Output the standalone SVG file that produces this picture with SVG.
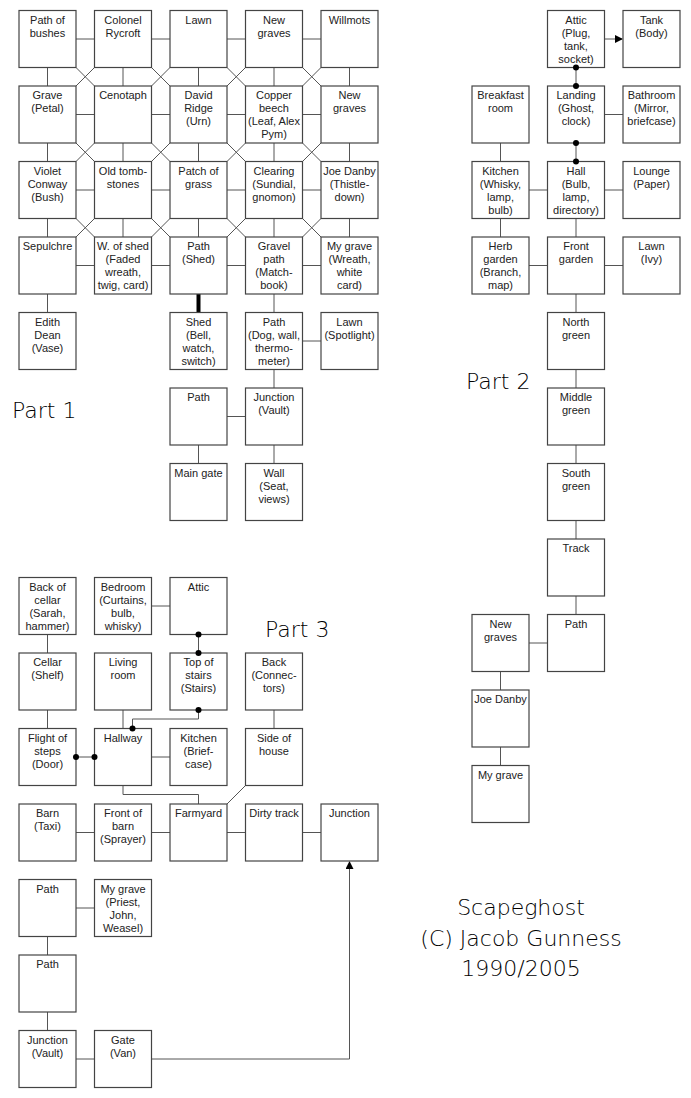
<svg xmlns="http://www.w3.org/2000/svg" width="691" height="1098" viewBox="0 0 691 1098">
<style>
.b{fill:#fff;stroke:#444;stroke-width:1.2}
.t{font-family:"Liberation Sans",Arial,sans-serif;font-size:11px;text-anchor:middle;fill:#222}
.c{stroke:#555;stroke-width:1;fill:none}
.d{fill:#000}
.h{font-family:"DejaVu Sans",sans-serif;font-weight:300;font-size:22px;fill:#000}
</style>
<defs><marker id="ah" markerWidth="8" markerHeight="8" refX="7" refY="4" orient="auto" markerUnits="userSpaceOnUse"><path d="M0,0 L8,4 L0,8 z" fill="#000"/></marker></defs>
<rect width="691" height="1098" fill="#fff"/>
<g id="connectors">
<path class="c" d="M76,39H94.5M151.5,39H170M227,39H245.5M302.5,39H321
M76,114.5H94.5M151.5,114.5H170M227,114.5H245.5M302.5,114.5H321
M76,190H94.5M151.5,190H170M227,190H245.5M302.5,190H321
M76,265.5H94.5M151.5,265.5H170M227,265.5H245.5M302.5,265.5H321"/>
<path class="c" d="M47.5,67.5V86M123,67.5V86M198.5,67.5V86M274,67.5V86M349.5,67.5V86
M47.5,143V161.5M123,143V161.5M198.5,143V161.5M274,143V161.5M349.5,143V161.5
M47.5,218.5V237M123,218.5V237M198.5,218.5V237M274,218.5V237M349.5,218.5V237
M47.5,294V312.5M274,294V312.5M274,369.5V388M274,445V463.5M198.5,445V463.5
M302.5,341H321M227,416.5H245.5"/>
<path d="M198.5,294V312.5" stroke="#000" stroke-width="4"/>
<path class="c" d="M76,67.5L94.5,86M94.5,67.5L76,86M151.5,67.5L170,86M170,67.5L151.5,86M227,67.5L245.5,86M245.5,67.5L227,86M302.5,67.5L321,86M321,67.5L302.5,86
M76,143L94.5,161.5M94.5,143L76,161.5M151.5,143L170,161.5M170,143L151.5,161.5M227,143L245.5,161.5M245.5,143L227,161.5M302.5,143L321,161.5M321,143L302.5,161.5
M76,218.5L94.5,237M94.5,218.5L76,237M151.5,218.5L170,237M170,218.5L151.5,237M227,218.5L245.5,237M245.5,218.5L227,237M302.5,218.5L321,237M321,218.5L302.5,237"/>
<path class="c" d="M604.5,39H622" stroke="#000" marker-end="url(#ah)"/>
<path class="c" d="M576,67.5V86M576,143V161.5" stroke="#000" stroke-width="1.5"/>
<path class="c" d="M604.5,114.5H623M500.5,143V161.5M529,190H547.5M604.5,190H623M500.5,218.5V237M529,265.5H547.5M604.5,265.5H623
M576,218.5V237M576,294V312.5M576,369.5V388M576,445V463.5M576,520.5V539M576,596V614.5M529,643H547.5M500.5,671.5V690M500.5,747V765.5"/>
<path class="c" d="M47.5,634.5V653M47.5,710V728.5M151.5,606H170M123,710V728.5M151.5,757H170M274,710V728.5
M123,785.5V794.5H198.5V804M245.5,785.5L227,804
M76,832.5H94.5M151.5,832.5H170M227,832.5H245.5M302.5,832.5H321
M76,908H94.5M47.5,936.5V955M47.5,1012V1030.5M76,1059H94.5"/>
<path class="c" d="M198.5,634.5V653M198.5,710V719H132.5V728.5M76,757H94.5" stroke="#000" stroke-width="1.5"/>
<path class="c" d="M151.5,1059H349.5V862" stroke="#000" marker-end="url(#ah)"/>
</g>
<g id="p1-path-of-bushes"><rect class="b" x="19" y="10.5" width="57" height="57"/><text class="t" x="47.5" y="23.5"><tspan x="47.5">Path of</tspan><tspan x="47.5" dy="13">bushes</tspan></text></g>
<g id="p1-colonel"><rect class="b" x="94.5" y="10.5" width="57" height="57"/><text class="t" x="123" y="23.5"><tspan x="123">Colonel</tspan><tspan x="123" dy="13">Rycroft</tspan></text></g>
<g id="p1-lawn"><rect class="b" x="170" y="10.5" width="57" height="57"/><text class="t" x="198.5" y="23.5">Lawn</text></g>
<g id="p1-new-graves1"><rect class="b" x="245.5" y="10.5" width="57" height="57"/><text class="t" x="274" y="23.5"><tspan x="274">New</tspan><tspan x="274" dy="13">graves</tspan></text></g>
<g id="p1-willmots"><rect class="b" x="321" y="10.5" width="57" height="57"/><text class="t" x="349.5" y="23.5">Willmots</text></g>
<g id="p1-grave"><rect class="b" x="19" y="86" width="57" height="57"/><text class="t" x="47.5" y="99"><tspan x="47.5">Grave</tspan><tspan x="47.5" dy="13">(Petal)</tspan></text></g>
<g id="p1-cenotaph"><rect class="b" x="94.5" y="86" width="57" height="57"/><text class="t" x="123" y="99">Cenotaph</text></g>
<g id="p1-david"><rect class="b" x="170" y="86" width="57" height="57"/><text class="t" x="198.5" y="99"><tspan x="198.5">David</tspan><tspan x="198.5" dy="13">Ridge</tspan><tspan x="198.5" dy="13">(Urn)</tspan></text></g>
<g id="p1-copper"><rect class="b" x="245.5" y="86" width="57" height="57"/><text class="t" x="274" y="99"><tspan x="274">Copper</tspan><tspan x="274" dy="13">beech</tspan><tspan x="274" dy="13">(Leaf, Alex</tspan><tspan x="274" dy="13">Pym)</tspan></text></g>
<g id="p1-new-graves2"><rect class="b" x="321" y="86" width="57" height="57"/><text class="t" x="349.5" y="99"><tspan x="349.5">New</tspan><tspan x="349.5" dy="13">graves</tspan></text></g>
<g id="p1-violet"><rect class="b" x="19" y="161.5" width="57" height="57"/><text class="t" x="47.5" y="174.5"><tspan x="47.5">Violet</tspan><tspan x="47.5" dy="13">Conway</tspan><tspan x="47.5" dy="13">(Bush)</tspan></text></g>
<g id="p1-old-tomb"><rect class="b" x="94.5" y="161.5" width="57" height="57"/><text class="t" x="123" y="174.5"><tspan x="123">Old tomb-</tspan><tspan x="123" dy="13">stones</tspan></text></g>
<g id="p1-patch"><rect class="b" x="170" y="161.5" width="57" height="57"/><text class="t" x="198.5" y="174.5"><tspan x="198.5">Patch of</tspan><tspan x="198.5" dy="13">grass</tspan></text></g>
<g id="p1-clearing"><rect class="b" x="245.5" y="161.5" width="57" height="57"/><text class="t" x="274" y="174.5"><tspan x="274">Clearing</tspan><tspan x="274" dy="13">(Sundial,</tspan><tspan x="274" dy="13">gnomon)</tspan></text></g>
<g id="p1-joe"><rect class="b" x="321" y="161.5" width="57" height="57"/><text class="t" x="349.5" y="174.5"><tspan x="349.5">Joe Danby</tspan><tspan x="349.5" dy="13">(Thistle-</tspan><tspan x="349.5" dy="13">down)</tspan></text></g>
<g id="p1-sepulchre"><rect class="b" x="19" y="237" width="57" height="57"/><text class="t" x="47.5" y="250">Sepulchre</text></g>
<g id="p1-w-shed"><rect class="b" x="94.5" y="237" width="57" height="57"/><text class="t" x="123" y="250"><tspan x="123">W. of shed</tspan><tspan x="123" dy="13">(Faded</tspan><tspan x="123" dy="13">wreath,</tspan><tspan x="123" dy="13">twig, card)</tspan></text></g>
<g id="p1-path-shed"><rect class="b" x="170" y="237" width="57" height="57"/><text class="t" x="198.5" y="250"><tspan x="198.5">Path</tspan><tspan x="198.5" dy="13">(Shed)</tspan></text></g>
<g id="p1-gravel"><rect class="b" x="245.5" y="237" width="57" height="57"/><text class="t" x="274" y="250"><tspan x="274">Gravel</tspan><tspan x="274" dy="13">path</tspan><tspan x="274" dy="13">(Match-</tspan><tspan x="274" dy="13">book)</tspan></text></g>
<g id="p1-my-grave"><rect class="b" x="321" y="237" width="57" height="57"/><text class="t" x="349.5" y="250"><tspan x="349.5">My grave</tspan><tspan x="349.5" dy="13">(Wreath,</tspan><tspan x="349.5" dy="13">white</tspan><tspan x="349.5" dy="13">card)</tspan></text></g>
<g id="p1-edith"><rect class="b" x="19" y="312.5" width="57" height="57"/><text class="t" x="47.5" y="325.5"><tspan x="47.5">Edith</tspan><tspan x="47.5" dy="13">Dean</tspan><tspan x="47.5" dy="13">(Vase)</tspan></text></g>
<g id="p1-shed"><rect class="b" x="170" y="312.5" width="57" height="57"/><text class="t" x="198.5" y="325.5"><tspan x="198.5">Shed</tspan><tspan x="198.5" dy="13">(Bell,</tspan><tspan x="198.5" dy="13">watch,</tspan><tspan x="198.5" dy="13">switch)</tspan></text></g>
<g id="p1-path-dog"><rect class="b" x="245.5" y="312.5" width="57" height="57"/><text class="t" x="274" y="325.5"><tspan x="274">Path</tspan><tspan x="274" dy="13">(Dog, wall,</tspan><tspan x="274" dy="13">thermo-</tspan><tspan x="274" dy="13">meter)</tspan></text></g>
<g id="p1-lawn-spot"><rect class="b" x="321" y="312.5" width="57" height="57"/><text class="t" x="349.5" y="325.5"><tspan x="349.5">Lawn</tspan><tspan x="349.5" dy="13">(Spotlight)</tspan></text></g>
<g id="p1-path"><rect class="b" x="170" y="388" width="57" height="57"/><text class="t" x="198.5" y="401">Path</text></g>
<g id="p1-junction"><rect class="b" x="245.5" y="388" width="57" height="57"/><text class="t" x="274" y="401"><tspan x="274">Junction</tspan><tspan x="274" dy="13">(Vault)</tspan></text></g>
<g id="p1-main-gate"><rect class="b" x="170" y="463.5" width="57" height="57"/><text class="t" x="198.5" y="476.5">Main gate</text></g>
<g id="p1-wall"><rect class="b" x="245.5" y="463.5" width="57" height="57"/><text class="t" x="274" y="476.5"><tspan x="274">Wall</tspan><tspan x="274" dy="13">(Seat,</tspan><tspan x="274" dy="13">views)</tspan></text></g>
<g id="p2-attic"><rect class="b" x="547.5" y="10.5" width="57" height="57"/><text class="t" x="576" y="23.5"><tspan x="576">Attic</tspan><tspan x="576" dy="13">(Plug,</tspan><tspan x="576" dy="13">tank,</tspan><tspan x="576" dy="13">socket)</tspan></text></g>
<g id="p2-tank"><rect class="b" x="623" y="10.5" width="57" height="57"/><text class="t" x="651.5" y="23.5"><tspan x="651.5">Tank</tspan><tspan x="651.5" dy="13">(Body)</tspan></text></g>
<g id="p2-breakfast"><rect class="b" x="472" y="86" width="57" height="57"/><text class="t" x="500.5" y="99"><tspan x="500.5">Breakfast</tspan><tspan x="500.5" dy="13">room</tspan></text></g>
<g id="p2-landing"><rect class="b" x="547.5" y="86" width="57" height="57"/><text class="t" x="576" y="99"><tspan x="576">Landing</tspan><tspan x="576" dy="13">(Ghost,</tspan><tspan x="576" dy="13">clock)</tspan></text></g>
<g id="p2-bathroom"><rect class="b" x="623" y="86" width="57" height="57"/><text class="t" x="651.5" y="99"><tspan x="651.5">Bathroom</tspan><tspan x="651.5" dy="13">(Mirror,</tspan><tspan x="651.5" dy="13">briefcase)</tspan></text></g>
<g id="p2-kitchen"><rect class="b" x="472" y="161.5" width="57" height="57"/><text class="t" x="500.5" y="174.5"><tspan x="500.5">Kitchen</tspan><tspan x="500.5" dy="13">(Whisky,</tspan><tspan x="500.5" dy="13">lamp,</tspan><tspan x="500.5" dy="13">bulb)</tspan></text></g>
<g id="p2-hall"><rect class="b" x="547.5" y="161.5" width="57" height="57"/><text class="t" x="576" y="174.5"><tspan x="576">Hall</tspan><tspan x="576" dy="13">(Bulb,</tspan><tspan x="576" dy="13">lamp,</tspan><tspan x="576" dy="13">directory)</tspan></text></g>
<g id="p2-lounge"><rect class="b" x="623" y="161.5" width="57" height="57"/><text class="t" x="651.5" y="174.5"><tspan x="651.5">Lounge</tspan><tspan x="651.5" dy="13">(Paper)</tspan></text></g>
<g id="p2-herb"><rect class="b" x="472" y="237" width="57" height="57"/><text class="t" x="500.5" y="250"><tspan x="500.5">Herb</tspan><tspan x="500.5" dy="13">garden</tspan><tspan x="500.5" dy="13">(Branch,</tspan><tspan x="500.5" dy="13">map)</tspan></text></g>
<g id="p2-front"><rect class="b" x="547.5" y="237" width="57" height="57"/><text class="t" x="576" y="250"><tspan x="576">Front</tspan><tspan x="576" dy="13">garden</tspan></text></g>
<g id="p2-lawn"><rect class="b" x="623" y="237" width="57" height="57"/><text class="t" x="651.5" y="250"><tspan x="651.5">Lawn</tspan><tspan x="651.5" dy="13">(Ivy)</tspan></text></g>
<g id="p2-north"><rect class="b" x="547.5" y="312.5" width="57" height="57"/><text class="t" x="576" y="325.5"><tspan x="576">North</tspan><tspan x="576" dy="13">green</tspan></text></g>
<g id="p2-middle"><rect class="b" x="547.5" y="388" width="57" height="57"/><text class="t" x="576" y="401"><tspan x="576">Middle</tspan><tspan x="576" dy="13">green</tspan></text></g>
<g id="p2-south"><rect class="b" x="547.5" y="463.5" width="57" height="57"/><text class="t" x="576" y="476.5"><tspan x="576">South</tspan><tspan x="576" dy="13">green</tspan></text></g>
<g id="p2-track"><rect class="b" x="547.5" y="539" width="57" height="57"/><text class="t" x="576" y="552">Track</text></g>
<g id="p2-path"><rect class="b" x="547.5" y="614.5" width="57" height="57"/><text class="t" x="576" y="627.5">Path</text></g>
<g id="p2-new-graves"><rect class="b" x="472" y="614.5" width="57" height="57"/><text class="t" x="500.5" y="627.5"><tspan x="500.5">New</tspan><tspan x="500.5" dy="13">graves</tspan></text></g>
<g id="p2-joe"><rect class="b" x="472" y="690" width="57" height="57"/><text class="t" x="500.5" y="703">Joe Danby</text></g>
<g id="p2-my-grave"><rect class="b" x="472" y="765.5" width="57" height="57"/><text class="t" x="500.5" y="778.5">My grave</text></g>
<g id="p3-back-cellar"><rect class="b" x="19" y="577.5" width="57" height="57"/><text class="t" x="47.5" y="590.5"><tspan x="47.5">Back of</tspan><tspan x="47.5" dy="13">cellar</tspan><tspan x="47.5" dy="13">(Sarah,</tspan><tspan x="47.5" dy="13">hammer)</tspan></text></g>
<g id="p3-bedroom"><rect class="b" x="94.5" y="577.5" width="57" height="57"/><text class="t" x="123" y="590.5"><tspan x="123">Bedroom</tspan><tspan x="123" dy="13">(Curtains,</tspan><tspan x="123" dy="13">bulb,</tspan><tspan x="123" dy="13">whisky)</tspan></text></g>
<g id="p3-attic"><rect class="b" x="170" y="577.5" width="57" height="57"/><text class="t" x="198.5" y="590.5">Attic</text></g>
<g id="p3-cellar"><rect class="b" x="19" y="653" width="57" height="57"/><text class="t" x="47.5" y="666"><tspan x="47.5">Cellar</tspan><tspan x="47.5" dy="13">(Shelf)</tspan></text></g>
<g id="p3-living"><rect class="b" x="94.5" y="653" width="57" height="57"/><text class="t" x="123" y="666"><tspan x="123">Living</tspan><tspan x="123" dy="13">room</tspan></text></g>
<g id="p3-top-stairs"><rect class="b" x="170" y="653" width="57" height="57"/><text class="t" x="198.5" y="666"><tspan x="198.5">Top of</tspan><tspan x="198.5" dy="13">stairs</tspan><tspan x="198.5" dy="13">(Stairs)</tspan></text></g>
<g id="p3-back"><rect class="b" x="245.5" y="653" width="57" height="57"/><text class="t" x="274" y="666"><tspan x="274">Back</tspan><tspan x="274" dy="13">(Connec-</tspan><tspan x="274" dy="13">tors)</tspan></text></g>
<g id="p3-flight"><rect class="b" x="19" y="728.5" width="57" height="57"/><text class="t" x="47.5" y="741.5"><tspan x="47.5">Flight of</tspan><tspan x="47.5" dy="13">steps</tspan><tspan x="47.5" dy="13">(Door)</tspan></text></g>
<g id="p3-hallway"><rect class="b" x="94.5" y="728.5" width="57" height="57"/><text class="t" x="123" y="741.5">Hallway</text></g>
<g id="p3-kitchen"><rect class="b" x="170" y="728.5" width="57" height="57"/><text class="t" x="198.5" y="741.5"><tspan x="198.5">Kitchen</tspan><tspan x="198.5" dy="13">(Brief-</tspan><tspan x="198.5" dy="13">case)</tspan></text></g>
<g id="p3-side"><rect class="b" x="245.5" y="728.5" width="57" height="57"/><text class="t" x="274" y="741.5"><tspan x="274">Side of</tspan><tspan x="274" dy="13">house</tspan></text></g>
<g id="p3-barn"><rect class="b" x="19" y="804" width="57" height="57"/><text class="t" x="47.5" y="817"><tspan x="47.5">Barn</tspan><tspan x="47.5" dy="13">(Taxi)</tspan></text></g>
<g id="p3-front-barn"><rect class="b" x="94.5" y="804" width="57" height="57"/><text class="t" x="123" y="817"><tspan x="123">Front of</tspan><tspan x="123" dy="13">barn</tspan><tspan x="123" dy="13">(Sprayer)</tspan></text></g>
<g id="p3-farmyard"><rect class="b" x="170" y="804" width="57" height="57"/><text class="t" x="198.5" y="817">Farmyard</text></g>
<g id="p3-dirty"><rect class="b" x="245.5" y="804" width="57" height="57"/><text class="t" x="274" y="817">Dirty track</text></g>
<g id="p3-junction1"><rect class="b" x="321" y="804" width="57" height="57"/><text class="t" x="349.5" y="817">Junction</text></g>
<g id="p3-path1"><rect class="b" x="19" y="879.5" width="57" height="57"/><text class="t" x="47.5" y="892.5">Path</text></g>
<g id="p3-my-grave"><rect class="b" x="94.5" y="879.5" width="57" height="57"/><text class="t" x="123" y="892.5"><tspan x="123">My grave</tspan><tspan x="123" dy="13">(Priest,</tspan><tspan x="123" dy="13">John,</tspan><tspan x="123" dy="13">Weasel)</tspan></text></g>
<g id="p3-path2"><rect class="b" x="19" y="955" width="57" height="57"/><text class="t" x="47.5" y="968">Path</text></g>
<g id="p3-junction2"><rect class="b" x="19" y="1030.5" width="57" height="57"/><text class="t" x="47.5" y="1043.5"><tspan x="47.5">Junction</tspan><tspan x="47.5" dy="13">(Vault)</tspan></text></g>
<g id="p3-gate"><rect class="b" x="94.5" y="1030.5" width="57" height="57"/><text class="t" x="123" y="1043.5"><tspan x="123">Gate</tspan><tspan x="123" dy="13">(Van)</tspan></text></g>
<g id="connector-dots">
<circle class="d" cx="576" cy="67.5" r="3"/><circle class="d" cx="576" cy="86" r="3"/>
<circle class="d" cx="576" cy="143" r="3"/><circle class="d" cx="576" cy="161.5" r="3"/>
<circle class="d" cx="198.5" cy="634.5" r="3"/><circle class="d" cx="198.5" cy="653" r="3"/>
<circle class="d" cx="198.5" cy="710" r="3"/><circle class="d" cx="132.5" cy="728.5" r="3"/>
<circle class="d" cx="76" cy="757" r="3"/><circle class="d" cx="94.5" cy="757" r="3"/>
</g>
<g id="labels">
<text class="h" x="12" y="418">Part 1</text>
<text class="h" x="466" y="389">Part 2</text>
<text class="h" x="265" y="637">Part 3</text>
<text class="h" x="521" y="915" text-anchor="middle">Scapeghost</text>
<text class="h" x="521" y="946" text-anchor="middle">(C) Jacob Gunness</text>
<text class="h" x="521" y="976" text-anchor="middle">1990/2005</text>
</g>
</svg>
